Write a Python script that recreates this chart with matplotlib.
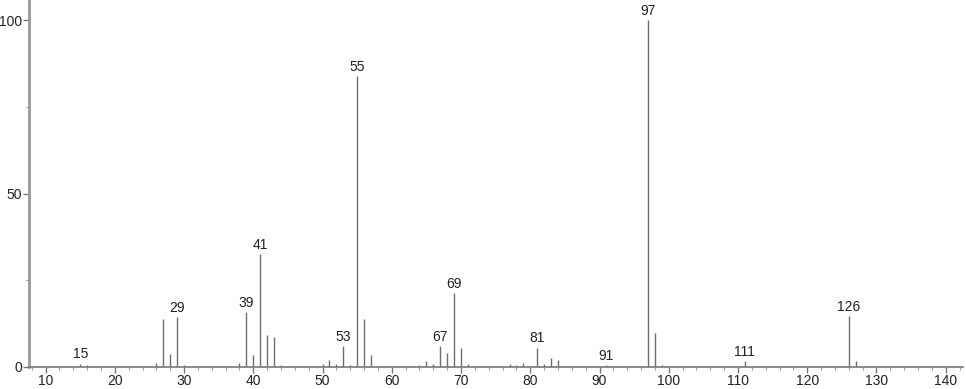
import matplotlib
matplotlib.use("Agg")
import matplotlib.pyplot as plt
import numpy as np

plt.rcParams["font.family"] = ["Liberation Sans", "DejaVu Sans"]

# m/z and relative intensity
mz = [15, 16, 26, 27, 28, 29, 30, 38, 39, 40, 41, 42, 43, 44,
      50, 51, 52, 53, 54, 55, 56, 57, 58, 63, 64, 65, 66, 67, 68, 69, 70, 71,
      77, 78, 79, 81, 82, 83, 84, 91, 93, 97, 98, 99, 111, 126, 127]
intensity = [1.0, 0.5, 1.2, 13.7, 3.7, 14.5, 0.5, 1.2, 15.8, 3.4, 32.6, 9.2, 8.6, 0.5,
             1.0, 2.0, 1.0, 6.0, 0.5, 83.9, 13.8, 3.4, 0.3, 0.3, 0.5, 1.7, 1.0, 6.0, 3.9, 21.4, 5.6, 0.8,
             1.0, 0.5, 1.2, 5.6, 1.0, 2.7, 2.0, 0.6, 0.3, 100.0, 9.7, 0.5, 1.8, 14.7, 1.6]
labelled = [15, 29, 39, 41, 53, 55, 67, 69, 81, 91, 97, 111, 126]

fig = plt.figure(figsize=(9.66, 3.89), dpi=100)
ax = fig.add_axes([29 / 966, 22 / 389, 934 / 966, 367 / 389])

ax.vlines(mz, 0, intensity, color="#6e6e6e", linewidth=1.0)

for m, v in zip(mz, intensity):
    if m in labelled:
        ax.annotate(str(m), (m, v), xytext=(0, 1.5), textcoords="offset points",
                    ha="center", va="bottom", fontsize=10, color="#222222",
                    annotation_clip=False)

ax.set_xlim(7.6, 142.5)
ax.set_ylim(0, 105.8)
ax.set_xticks(np.arange(10, 141, 10))
ax.set_xticks(np.arange(8, 143, 2), minor=True)
ax.set_yticks([0, 50, 100])
ax.set_yticks([25, 75], minor=True)

for s in ["top", "right"]:
    ax.spines[s].set_visible(False)
ax.spines["left"].set_color("#999999")
ax.spines["left"].set_linewidth(2)
ax.spines["bottom"].set_color("#777777")
ax.spines["bottom"].set_linewidth(1.2)

ax.tick_params(axis="both", which="major", length=4, width=1, color="#777777",
               labelsize=10, labelcolor="#222222", pad=1)
ax.tick_params(axis="both", which="minor", length=2, width=0.8, color="#999999")

fig.savefig("out.png", dpi=100)
